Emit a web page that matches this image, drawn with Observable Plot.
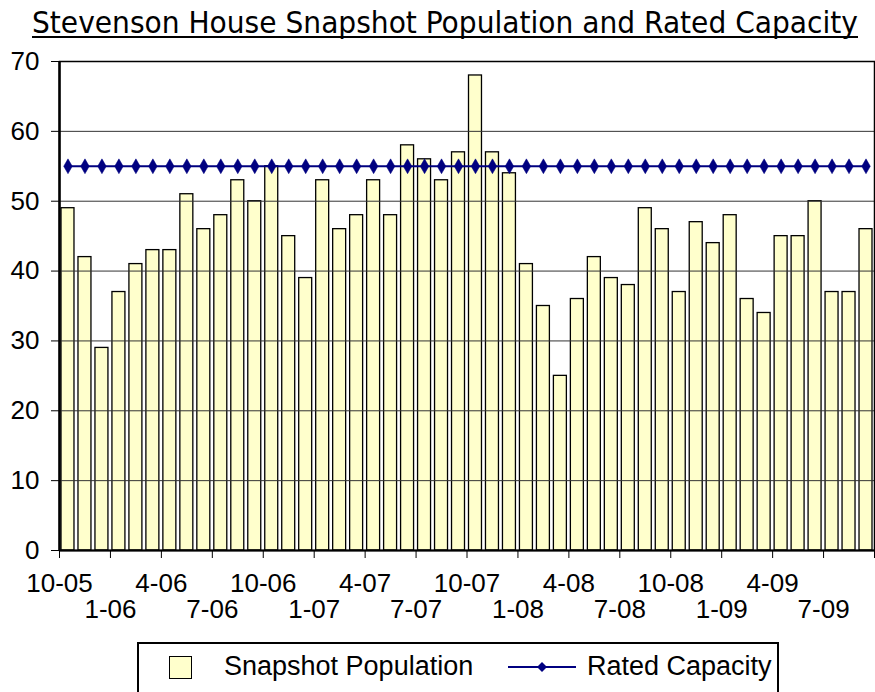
<!DOCTYPE html>
<html><head><meta charset="utf-8">
<script src="https://cdn.jsdelivr.net/npm/d3@7"></script>
<script src="https://cdn.jsdelivr.net/npm/@observablehq/plot@0.6"></script>
<style>
body{margin:0;background:#fff;width:875px;height:692px;overflow:hidden;font-family:"Liberation Sans",Arial,sans-serif;}
#title{display:block;}
#chart svg{display:block;overflow:visible;}
#legend{position:relative;height:54px;}
#legend .box{position:absolute;left:137px;top:4px;width:638px;height:70px;border:2px solid #000;}
#legend .sw{position:absolute;left:30px;top:12px;width:21px;height:21px;background:#FFFFCC;border:1.5px solid #000;}
#legend .t{position:absolute;font-size:27px;line-height:27px;top:9px;color:#000;white-space:nowrap;}
#legend svg{position:absolute;left:369px;top:10px;}
</style></head>
<body>
<svg id="title" width="875" height="44">
  <text id="ttl" x="445" y="33" text-anchor="middle" font-family="'DejaVu Sans Condensed','DejaVu Sans',sans-serif" font-size="30" fill="#000" textLength="826" lengthAdjust="spacingAndGlyphs">Stevenson House Snapshot Population and Rated Capacity</text>
  <line x1="32" x2="858" y1="37" y2="37" stroke="#000" stroke-width="2"/>
</svg>
<div id="chart"></div>
<div id="legend"><div class="box">
  <div class="sw"></div>
  <div class="t" style="left:85px">Snapshot Population</div>
  <svg width="70" height="26"><line x1="0" x2="68" y1="13" y2="13" stroke="#000080" stroke-width="2"/><path d="M34,8 L39,13 L34,18 L29,13 Z" fill="#000080"/></svg>
  <div class="t" style="left:448px">Rated Capacity</div>
</div></div>
<script>
const tickLabels = ["10-05","1-06","4-06","7-06","10-06","1-07","4-07","7-07","10-07","1-08","4-08","7-08","10-08","1-09","4-09","7-09"];
const population = [49,42,29,37,41,43,43,51,46,48,53,50,55,45,39,53,46,48,53,48,58,56,53,57,68,57,54,41,35,25,36,42,39,38,49,46,37,47,44,48,36,34,45,45,50,37,37,46];
const capacity = [55,55,55,55,55,55,55,55,55,55,55,55,55,55,55,55,55,55,55,55,55,55,55,55,55,55,55,55,55,55,55,55,55,55,55,55,55,55,55,55,55,55,55,55,55,55,55,55];
const yTicks = [0,10,20,30,40,50,60,70];

const n = population.length;
const data = population.map((v, i) => ({i, v, cap: capacity[i]}));
const xTicks = d3.range(0, n + 1, 3);

const chart = Plot.plot({
  width: 875, height: 594,
  marginTop: 17, marginBottom: 88, marginLeft: 59, marginRight: 1,
  style: {fontFamily: '"Liberation Sans", Arial, sans-serif', fontSize: "26px", color: "#000", background: "#fff", overflow: "visible"},
  x: {type: "linear", domain: [0, n]},
  y: {domain: [0, 70]},
  marks: [
    Plot.rect(data, {x1: "i", x2: d => d.i + 1, y1: d => 0, y2: "v", fill: "#FFFFCC", stroke: "#000", strokeWidth: 1.3, insetLeft: 2, insetRight: 2}),
    Plot.gridY(yTicks, {stroke: "#333", strokeOpacity: 1, strokeWidth: 1}),
    Plot.frame({stroke: "#000", strokeWidth: 1.5}),
    Plot.ruleX([0], {stroke: "#000", strokeWidth: 2.5}),
    Plot.ruleY([0], {stroke: "#000", strokeWidth: 2}),
    Plot.axisY(yTicks, {tickSize: 8, tickPadding: 12, fontSize: 26, label: null}),
    Plot.axisX(xTicks, {tickSize: 8, tickPadding: 14, fontSize: 26, lineHeight: 1.03, label: null,
      tickFormat: d => { const k = d / 3; const s = tickLabels[k]; if (s === undefined) return ""; return k % 2 ? "\n" + s : s; }}),
    Plot.lineY(data, {x: d => d.i + 0.5, y: "cap", stroke: "#000080", strokeWidth: 2}),
    Plot.dot(data, {x: d => d.i + 0.5, y: "cap", symbol: "diamond", r: 4.5, fill: "#000080", stroke: "#000080", strokeWidth: 0.5})
  ]
});
document.getElementById("chart").append(chart);
</script>
</body></html>
